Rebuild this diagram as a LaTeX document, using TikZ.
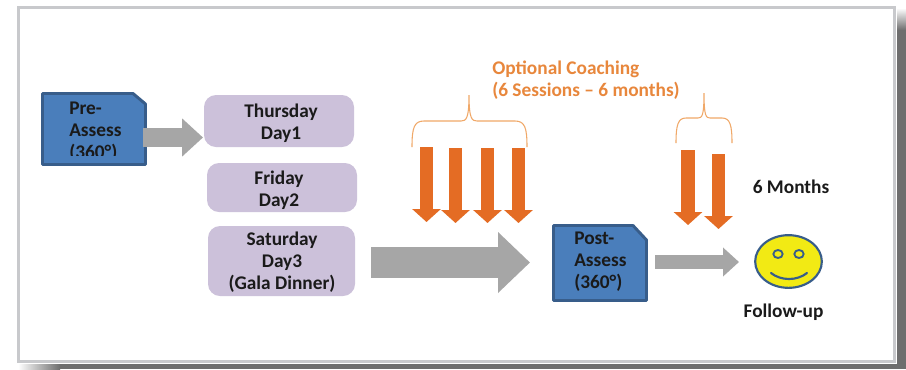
\documentclass[tikz,border=0pt]{standalone}
\usepackage{fontspec}
\setmainfont{Carlito}
\usetikzlibrary{arrows.meta,shapes.geometric}
\definecolor{boxblue}{HTML}{4A7EBB}
\definecolor{boxedge}{HTML}{385D8A}
\definecolor{daypurple}{HTML}{CCC1DA}
\definecolor{arrowgray}{HTML}{A6A6A6}
\definecolor{arroworange}{HTML}{E46C24}
\definecolor{textorange}{HTML}{E8873C}
\definecolor{braceorange}{HTML}{F0A868}
\definecolor{inkdark}{HTML}{1A1A1A}
\definecolor{smileyellow}{HTML}{F2EA14}
\definecolor{framegray}{HTML}{C8C9CC}
\definecolor{shadowgray}{HTML}{6E6E6E}
\tikzset{
  x=.75pt,y=-.75pt,
  lbl/.style={font=\bfseries\fontsize{14.5}{16.4}\selectfont,text=inkdark,align=center,inner sep=0pt},
  assessbox/.style={draw=boxedge,line width=2.2pt,fill=boxblue,line join=round},
  daybox/.style={rectangle,rounded corners=9pt,fill=daypurple,inner sep=0pt},
  eyering/.style={ellipse,draw=boxedge,line width=1.4pt,minimum width=7pt,minimum height=6pt,inner sep=0pt},
  grayarrow/.style n args={3}{draw=arrowgray,line width=#1*.75pt,
     -{Triangle[length=#2*.75pt,width=#3*.75pt,fill=arrowgray]}},
  orangearrow/.style={draw=arroworange,line width=10pt,
     -{Triangle[length=9.75pt,width=21pt,fill=arroworange]}},
  bracepath/.style={draw=braceorange,line width=.8pt},
}
\begin{document}
\begin{tikzpicture}
\useasboundingbox (0,0) rectangle (906,369);
\fill[white] (0,0) rectangle (906,369);
% shadow
\shade[left color=white,right color=shadowgray] (18,364) rectangle (60,369);
\fill[shadowgray] (60,364) rectangle (906,369);
\shade[top color=white,bottom color=shadowgray] (897,8) rectangle (906,30);
\fill[shadowgray] (897,30) rectangle (906,369);
% frame
\node[draw=framegray,line width=2.4pt,fill=white,rectangle,inner sep=0pt,
  minimum width=657.5pt,minimum height=266pt] (frame) at (456.5,184.5) {};
% assess boxes
\draw[assessbox] (42.5,93.5) -- (133,93.5) -- (145.5,104) -- (145.5,164.5) -- (42.5,164.5) -- cycle;
\draw[assessbox] (553.5,225.5) -- (633,225.5) -- (646.5,240) -- (646.5,300.5) -- (553.5,300.5) -- cycle;
\begin{scope}
\clip (41,92) rectangle (147,155.5);
\node[lbl,align=left,anchor=north west] (pretext) at (69,101.5) {Pre-\\Assess\\(360°)};
\end{scope}
\node[lbl,align=left,anchor=north west] (posttext) at (574,231.5) {Post-\\Assess\\(360°)};
% day boxes
\node[daybox,minimum width=112.5pt,minimum height=39pt] (thu) at (279,121) {};
\node[daybox,minimum width=112.5pt,minimum height=36.75pt] (fri) at (282,187.5) {};
\node[daybox,minimum width=110.25pt,minimum height=52.5pt] (sat) at (281.5,261) {};
\node[lbl] (thutext) at (281,123.5) {Thursday\\Day1};
\node[lbl] (fritext) at (279,190) {Friday\\Day2};
\node[lbl] (sattext) at (282,262) {Saturday\\Day3\\(Gala Dinner)};
% gray arrows
\coordinate (g1s) at (143,137.5);
\coordinate (g1e) at (203,137.5);
\coordinate (g2s) at (371,262.5);
\coordinate (g2e) at (530,262.5);
\coordinate (g3s) at (655,262);
\coordinate (g3e) at (739,262);
\draw[grayarrow={19}{21}{37}] (g1s) -- (g1e);
\draw[grayarrow={31}{32}{59}] (g2s) -- (g2e);
\draw[grayarrow={14}{16}{28}] (g3s) -- (g3e);
% orange arrows
\foreach \n/\x/\a/\b in {a/426.5/147/222,b/455.5/148/223,c/487.5/148/223,d/518.5/148/223,e/688/150/225,f/718.5/154/229}{
  \coordinate (\n s) at (\x,\a);
  \coordinate (\n e) at (\x,\b);
  \draw[orangearrow] (\n s) -- (\n e);
}
% braces
\coordinate (b1l) at (412,147);
\coordinate (b1r) at (527,147);
\coordinate (b1t) at (469,95);
\draw[bracepath] (b1l) .. controls (412,128) and (414,121) .. (424,121) -- (461,121)
  .. controls (466,121) and (469,119) .. (b1t)
  .. controls (469,119) and (472,121) .. (477,121) -- (515,121)
  .. controls (525,121) and (527,128) .. (b1r);
\coordinate (b2l) at (676,143);
\coordinate (b2r) at (732,143);
\coordinate (b2t) at (704,93);
\draw[bracepath] (b2l) .. controls (676,125) and (678,118) .. (686,118) -- (698,118)
  .. controls (702,118) and (704,116) .. (b2t)
  .. controls (704,116) and (706,118) .. (710,118) -- (722,118)
  .. controls (730,118) and (732,125) .. (b2r);
% labels
\node[lbl,align=left,text=textorange,anchor=north west] (coach) at (492,60.5) {Optional Coaching\\(6 Sessions -- 6 months)};
\node[lbl] (six) at (791,186.5) {6 Months};
\node[lbl] (follow) at (783.5,312) {Follow-up};
% smiley
\node[ellipse,draw=boxedge,line width=1.6pt,fill=smileyellow,minimum width=50pt,minimum height=39.5pt,inner sep=0pt] (face) at (788.5,261.5) {};
\node[eyering] (eyel) at (778,254) {};
\node[eyering] (eyer) at (799,254) {};
\coordinate (sl) at (771,273);
\coordinate (sr) at (807,273);
\draw[boxedge,line width=1.6pt,line cap=round] (sl) .. controls (781,281) and (797,281) .. (sr);
\end{tikzpicture}
\end{document}
